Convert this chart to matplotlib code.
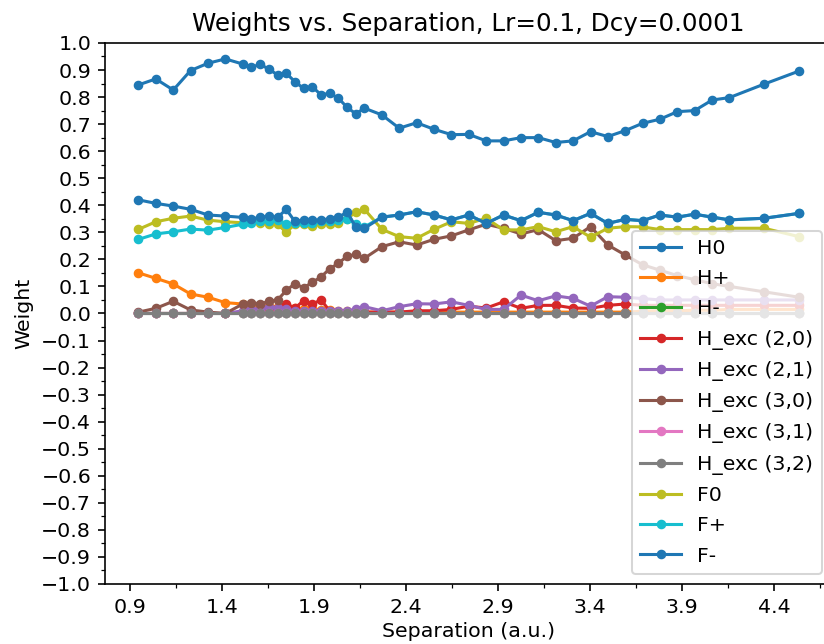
import matplotlib
matplotlib.use("Agg")
import matplotlib.pyplot as plt

# ---------------- data ----------------
separation = [0.945, 1.039, 1.134, 1.228, 1.323, 1.417, 1.512, 1.559, 1.606, 1.654,
              1.701, 1.748, 1.795, 1.842, 1.890, 1.937, 1.984, 2.031, 2.079, 2.126,
              2.173, 2.268, 2.362, 2.457, 2.551, 2.646, 2.740, 2.835, 2.929, 3.024,
              3.118, 3.213, 3.307, 3.402, 3.496, 3.591, 3.685, 3.779, 3.874, 3.968,
              4.063, 4.157, 4.346, 4.535]

H0 = [0.845, 0.867, 0.826, 0.898, 0.925, 0.941, 0.922, 0.910, 0.921, 0.903,
      0.882, 0.888, 0.857, 0.832, 0.838, 0.808, 0.814, 0.796, 0.762, 0.738,
      0.759, 0.734, 0.685, 0.705, 0.681, 0.661, 0.662, 0.638, 0.638, 0.650,
      0.650, 0.632, 0.638, 0.672, 0.654, 0.676, 0.703, 0.718, 0.746, 0.750,
      0.789, 0.798, 0.848, 0.896]

H_plus = [0.150, 0.130, 0.109, 0.072, 0.060, 0.040, 0.035, 0.032, 0.030, 0.028,
          0.025, 0.022, 0.020, 0.018, 0.016, 0.014, 0.012, 0.010, 0.008, 0.006,
          0.005, 0.005, 0.005, 0.005, 0.005, 0.005, 0.005, 0.005, 0.005, 0.005,
          0.005, 0.005, 0.005, 0.005, 0.005, 0.005, 0.008, 0.010, 0.010, 0.012,
          0.012, 0.015, 0.015, 0.015]

H_minus = [0.0] * 44

H_exc_20 = [0.0, 0.0, 0.0, 0.0, 0.0, 0.0, 0.005, 0.010, 0.015, 0.020,
            0.020, 0.036, 0.020, 0.047, 0.035, 0.050, 0.010, 0.005, 0.005, 0.005,
            0.005, 0.005, 0.005, 0.010, 0.010, 0.015, 0.027, 0.020, 0.043, 0.019,
            0.030, 0.030, 0.020, 0.019, 0.030, 0.035, 0.030, 0.030, 0.030, 0.030,
            0.030, 0.030, 0.030, 0.030]

H_exc_21 = [0.0, 0.0, 0.0, 0.0, 0.0, 0.0, 0.010, 0.015, 0.015, 0.025,
            0.020, 0.015, 0.010, 0.010, 0.010, 0.010, 0.010, 0.010, 0.010, 0.015,
            0.025, 0.010, 0.025, 0.036, 0.035, 0.043, 0.030, 0.015, 0.015, 0.068,
            0.047, 0.065, 0.056, 0.027, 0.062, 0.060, 0.055, 0.050, 0.050, 0.050,
            0.050, 0.050, 0.050, 0.050]

H_exc_30 = [0.005, 0.019, 0.045, 0.013, 0.005, 0.000, 0.035, 0.040, 0.035, 0.045,
            0.050, 0.085, 0.110, 0.095, 0.115, 0.135, 0.165, 0.185, 0.212, 0.218,
            0.204, 0.247, 0.265, 0.253, 0.274, 0.287, 0.309, 0.330, 0.315, 0.294,
            0.310, 0.269, 0.278, 0.321, 0.253, 0.216, 0.180, 0.160, 0.140, 0.125,
            0.110, 0.100, 0.080, 0.060]

H_exc_31 = [0.0] * 44
H_exc_32 = [0.0] * 44

F0 = [0.311, 0.339, 0.352, 0.360, 0.345, 0.339, 0.335, 0.340, 0.335, 0.330,
      0.330, 0.300, 0.330, 0.330, 0.325, 0.330, 0.330, 0.335, 0.350, 0.375,
      0.385, 0.311, 0.284, 0.278, 0.311, 0.339, 0.333, 0.352, 0.309, 0.309,
      0.321, 0.302, 0.321, 0.282, 0.315, 0.321, 0.320, 0.310, 0.310, 0.310,
      0.310, 0.315, 0.315, 0.284]

F_plus = [0.274, 0.294, 0.302, 0.312, 0.308, 0.318, 0.330, 0.335, 0.340, 0.340,
          0.345, 0.330, 0.335, 0.335, 0.335, 0.340, 0.340, 0.345, 0.350, 0.330,
          0.320, 0.356, 0.364, 0.376, 0.364, 0.346, 0.364, 0.333, 0.364, 0.343,
          0.374, 0.364, 0.343, 0.370, 0.333, 0.348, 0.343, 0.364, 0.356, 0.367,
          0.356, 0.346, 0.352, 0.370]

F_minus = [0.420, 0.407, 0.397, 0.385, 0.364, 0.360, 0.355, 0.350, 0.355, 0.360,
           0.355, 0.385, 0.340, 0.345, 0.345, 0.345, 0.350, 0.355, 0.375, 0.320,
           0.315, 0.356, 0.364, 0.376, 0.364, 0.346, 0.364, 0.333, 0.364, 0.343,
           0.374, 0.364, 0.343, 0.370, 0.333, 0.348, 0.343, 0.364, 0.356, 0.367,
           0.356, 0.346, 0.352, 0.370]

series_labels = ["H0", "H+", "H-", "H_exc (2,0)", "H_exc (2,1)", "H_exc (3,0)",
                 "H_exc (3,1)", "H_exc (3,2)", "F0", "F+", "F-"]
series_values = [H0, H_plus, H_minus, H_exc_20, H_exc_21, H_exc_30,
                 H_exc_31, H_exc_32, F0, F_plus, F_minus]

xtick_values = [0.9, 1.4, 1.9, 2.4, 2.9, 3.4, 3.9, 4.4]
xtick_labels = ["0.9", "1.4", "1.9", "2.4", "2.9", "3.4", "3.9", "4.4"]
xminor_values = [1.15, 1.65, 2.15, 2.65, 3.15, 3.65, 4.15, 4.65]
ytick_values = [round(-1.0 + 0.1 * k, 1) for k in range(21)]
yminor_values = [round(-0.95 + 0.1 * k, 2) for k in range(20)]

title = "Weights vs. Separation, Lr=0.1, Dcy=0.0001"

# ---------------- style ----------------
S = 1.475
plt.rcParams.update({
    "font.family": ["DejaVu Sans"],
    "font.size": 10 * S,
    "lines.linewidth": 1.5 * S,
    "lines.markersize": 4 * S,
    "axes.linewidth": 0.8 * S,
    "axes.titlepad": 6 * S,
    "axes.labelpad": 2.5 * S,
    "xtick.major.size": 3.5 * S,
    "ytick.major.size": 3.5 * S,
    "xtick.minor.size": 2 * S,
    "ytick.minor.size": 2 * S,
    "xtick.major.width": 0.8 * S,
    "ytick.major.width": 0.8 * S,
    "xtick.minor.width": 0.6 * S,
    "ytick.minor.width": 0.6 * S,
    "xtick.major.pad": 3.5 * S,
    "ytick.major.pad": 3.5 * S,
    "patch.linewidth": 1.0 * S,
    "legend.labelspacing": 0.55,
})

fig = plt.figure(figsize=(8.24, 6.44), dpi=100)
ax = fig.add_axes([0.128, 0.0932, 0.8817, 0.8401])

for label, vals in zip(series_labels, series_values):
    ax.plot(separation, vals, marker="o", label=label)

ax.set_ylim(-1.0, 1.0)
ax.set_xticks(xtick_values)
ax.set_xticklabels(xtick_labels)
ax.set_xticks(xminor_values, minor=True)
ax.set_yticks(ytick_values)
ax.set_yticks(yminor_values, minor=True)

ax.set_title(title)
ax.set_xlabel("Separation (a.u.)")
ax.set_ylabel("Weight", labelpad=4 * S)
ax.legend(loc="lower right")

fig.savefig("out.png", dpi=100)
